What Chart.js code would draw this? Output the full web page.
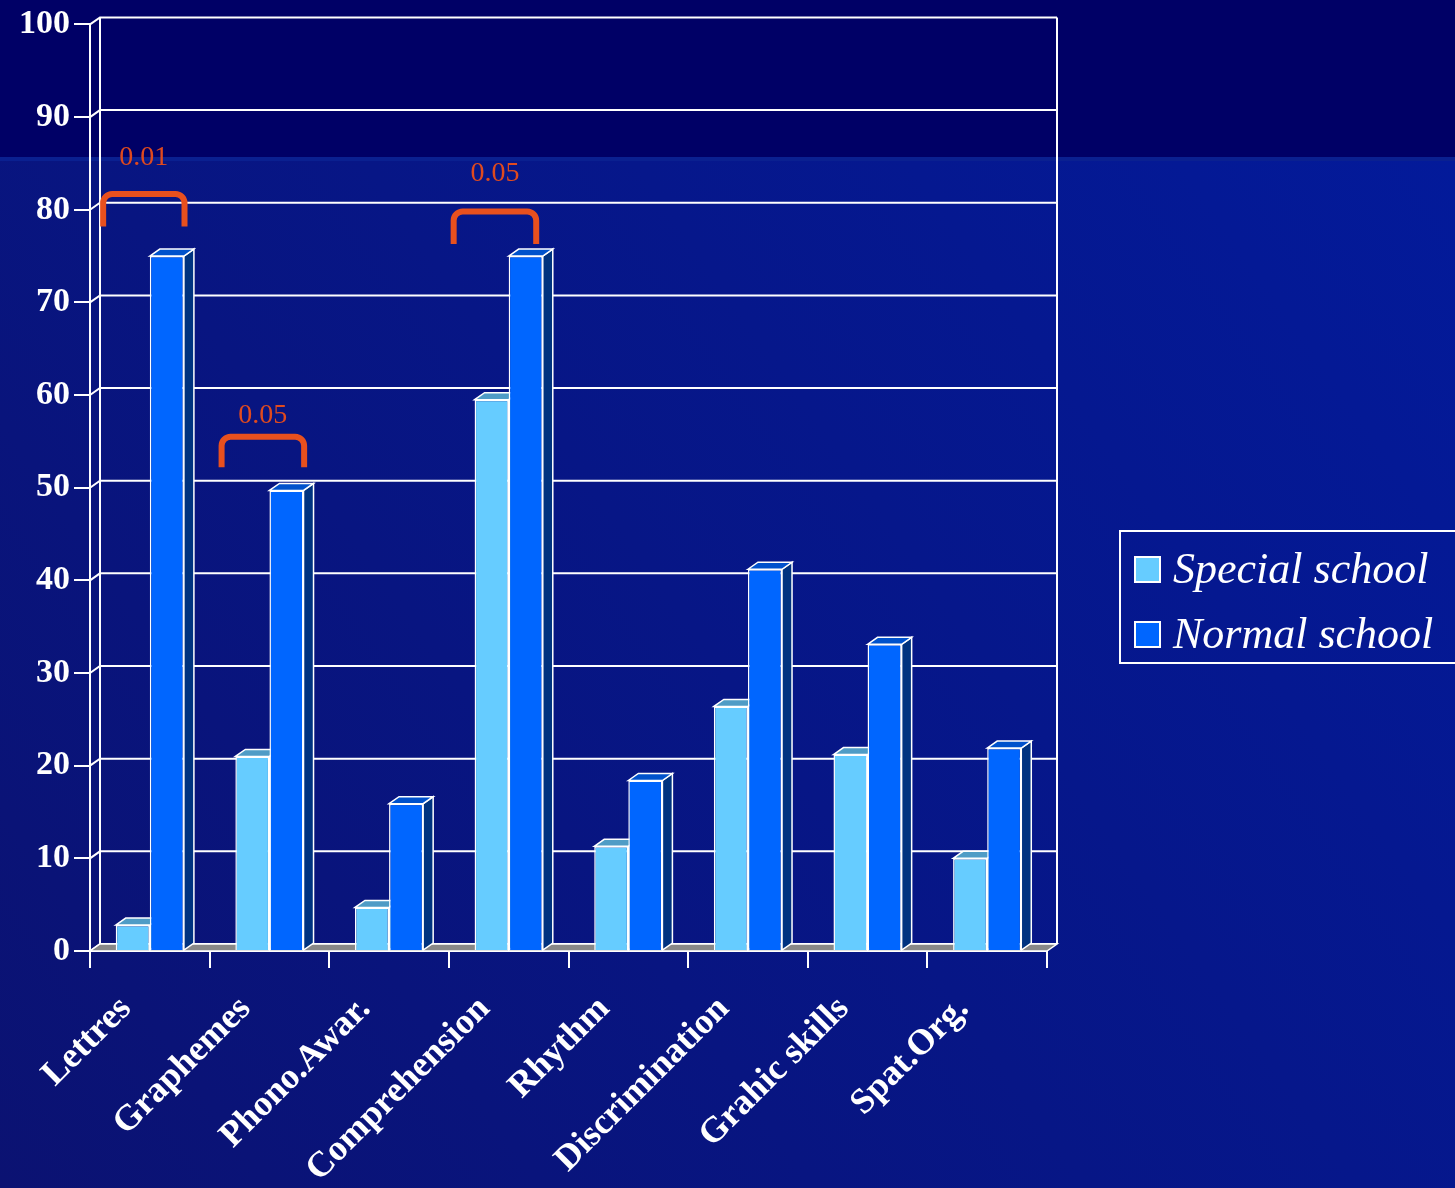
<!DOCTYPE html>
<html>
<head>
<meta charset="utf-8">
<script src="https://cdn.jsdelivr.net/npm/chart.js@4.4.0/dist/chart.umd.min.js"></script>
<style>
  html, body { margin: 0; padding: 0; background: #000066; }
  #wrap { width: 1455px; height: 1188px; }
</style>
</head>
<body>
<div id="wrap"><canvas id="chart" width="1455" height="1188"></canvas></div>
<script>
"use strict";

let categories = ["Lettres", "Graphemes", "Phono.Awar.", "Comprehension", "Rhythm", "Discrimination", "Grahic skills", "Spat.Org."];
let specialSchool = [2.8, 21, 4.7, 59.5, 11.3, 26.4, 21.2, 10];
let normalSchool = [75, 49.7, 15.9, 75, 18.4, 41.2, 33.1, 21.9];
let seriesNames = ["Special school", "Normal school"];
let yTicks = [0, 10, 20, 30, 40, 50, 60, 70, 80, 90, 100];

// significance brackets (category index, label, span in category units, heights in values)
let sigCategory = [0, 1, 3];
let sigLabel = ["0.01", "0.05", "0.05"];
let sigFrom = [-0.39, -0.40, -0.46];
let sigTo = [0.29, 0.29, 0.23];
let sigTop = [81.7, 55.5, 79.8];
let sigBottom = [78.2, 52.2, 76.3];
let sigText = [85.6, 57.8, 83.9];

const DX = 10, DY = 7;
const frontColors = ["#66ccff", "#0066ff"];
const topColors = ["#4f9cc6", "#0052cc"];
const sideColors = ["#3a88b0", "#003380"];

function poly(ctx, pts, fill) {
  ctx.beginPath();
  ctx.moveTo(pts[0][0], pts[0][1]);
  for (let i = 1; i < pts.length; i++) ctx.lineTo(pts[i][0], pts[i][1]);
  ctx.closePath();
  if (fill) { ctx.fillStyle = fill; ctx.fill(); }
  ctx.stroke();
}

const threeD = {
  id: "threeD",
  beforeDraw(chart) {
    const ctx = chart.ctx;
    ctx.save();
    let g = ctx.createLinearGradient(0, 1188, 1455, 160);
    g.addColorStop(0, "#0b1272");
    g.addColorStop(1, "#031a9a");
    ctx.fillStyle = g;
    ctx.fillRect(0, 0, chart.width, chart.height);
    ctx.fillStyle = "#000066";
    ctx.fillRect(0, 0, chart.width, 157);
    ctx.fillStyle = "#0a2090";
    ctx.fillRect(0, 157, chart.width, 4);
    ctx.restore();
  },
  beforeDatasetsDraw(chart) {
    const { ctx, chartArea: a, scales: { x, y } } = chart;
    ctx.save();
    ctx.strokeStyle = "#ffffff";
    ctx.lineWidth = 2;
    // back wall
    yTicks.forEach(v => {
      const py = y.getPixelForValue(v);
      ctx.beginPath();
      ctx.moveTo(a.left, py);
      ctx.lineTo(a.left + DX, py - DY);
      ctx.lineTo(a.right + DX, py - DY);
      ctx.stroke();
    });
    ctx.beginPath();
    ctx.moveTo(a.left + DX, a.top - DY);
    ctx.lineTo(a.left + DX, a.bottom - DY);
    ctx.moveTo(a.right + DX, a.top - DY);
    ctx.lineTo(a.right + DX, a.bottom - DY);
    ctx.stroke();
    // floor
    ctx.lineWidth = 1.5;
    poly(ctx, [[a.left, a.bottom], [a.left + DX, a.bottom - DY], [a.right + DX, a.bottom - DY], [a.right, a.bottom]], "#888888");
    // bar sides and tops
    chart.data.datasets.forEach((ds, di) => {
      chart.getDatasetMeta(di).data.forEach(bar => {
        const p = bar.getProps(["x", "y", "base", "width"], true);
        const l = p.x - p.width / 2, r = p.x + p.width / 2;
        poly(ctx, [[r, p.y], [r + DX, p.y - DY], [r + DX, p.base - DY], [r, p.base]], sideColors[di]);
        poly(ctx, [[l, p.y], [l + DX, p.y - DY], [r + DX, p.y - DY], [r, p.y]], topColors[di]);
      });
    });
    ctx.restore();
  },
  afterDatasetsDraw(chart) {
    const { ctx, scales: { x, y } } = chart;
    const step = x.getPixelForValue(1) - x.getPixelForValue(0);
    ctx.save();
    ctx.strokeStyle = "#e8501e";
    ctx.lineWidth = 6;
    ctx.lineJoin = "round";
    sigCategory.forEach((c, i) => {
      const cx = x.getPixelForValue(c);
      const l = cx + sigFrom[i] * step, r = cx + sigTo[i] * step;
      const t = y.getPixelForValue(sigTop[i]), b = y.getPixelForValue(sigBottom[i]);
      const rad = 9;
      ctx.beginPath();
      ctx.moveTo(l, b);
      ctx.lineTo(l, t + rad);
      ctx.arcTo(l, t, l + rad, t, rad);
      ctx.lineTo(r - rad, t);
      ctx.arcTo(r, t, r, t + rad, rad);
      ctx.lineTo(r, b);
      ctx.stroke();
      ctx.fillStyle = "#e04a1e";
      ctx.font = "28px 'Liberation Serif'";
      ctx.textAlign = "center";
      ctx.textBaseline = "middle";
      ctx.fillText(sigLabel[i], (l + r) / 2, y.getPixelForValue(sigText[i]));
    });
    ctx.restore();
  },
  afterDraw(chart) {
    const ctx = chart.ctx;
    ctx.save();
    ctx.strokeStyle = "#ffffff";
    ctx.lineWidth = 2;
    ctx.strokeRect(1120, 531, 360, 132);
    ctx.font = "italic 44px 'Liberation Serif'";
    ctx.textBaseline = "middle";
    ctx.textAlign = "left";
    chart.data.datasets.forEach((ds, i) => {
      const cy = 569 + i * 65;
      ctx.fillStyle = frontColors[i];
      ctx.fillRect(1135, cy - 12, 25, 25);
      ctx.strokeRect(1135, cy - 12, 25, 25);
      ctx.fillStyle = "#ffffff";
      ctx.fillText(ds.label, 1173, cy + 2);
    });
    ctx.restore();
  }
};

let chart = new Chart(document.getElementById("chart").getContext("2d"), {
  type: "bar",
  data: {
    labels: categories,
    datasets: [
      {
        label: seriesNames[0],
        data: specialSchool,
        backgroundColor: frontColors[0],
        borderColor: "#ffffff",
        borderWidth: 1.5,
      },
      {
        label: seriesNames[1],
        data: normalSchool,
        backgroundColor: frontColors[1],
        borderColor: "#ffffff",
        borderWidth: 1.5,
      },
    ],
  },
  options: {
    responsive: false,
    animation: false,
    layout: { padding: { top: 21, right: 408, left: 0, bottom: 0 } },
    categoryPercentage: 0.57,
    barPercentage: 1.0,
    plugins: { legend: { display: false }, tooltip: { enabled: false } },
    scales: {
      x: {
        grid: { drawOnChartArea: false, drawTicks: true, tickLength: 17, color: "#ffffff", lineWidth: 2 },
        border: { display: true, color: "#ffffff", width: 2 },
        ticks: {
          color: "#ffffff",
          font: { family: "'Liberation Serif'", size: 36, weight: "bold" },
          maxRotation: 45,
          minRotation: 45,
          autoSkip: false,
          padding: 20,
          labelOffset: -24,
        },
        afterFit(scale) { scale.height = 237; },
      },
      y: {
        min: 0,
        max: 100,
        grid: { drawOnChartArea: false, drawTicks: true, tickLength: 16, color: "#ffffff", lineWidth: 2 },
        border: { display: true, color: "#ffffff", width: 2 },
        ticks: {
          stepSize: 10,
          color: "#ffffff",
          font: { family: "'Liberation Serif'", size: 34, weight: "bold" },
          padding: 4,
        },
        afterFit(scale) { scale.width = 90; },
      },
    },
  },
  plugins: [threeD],
});
</script>
</body>
</html>
